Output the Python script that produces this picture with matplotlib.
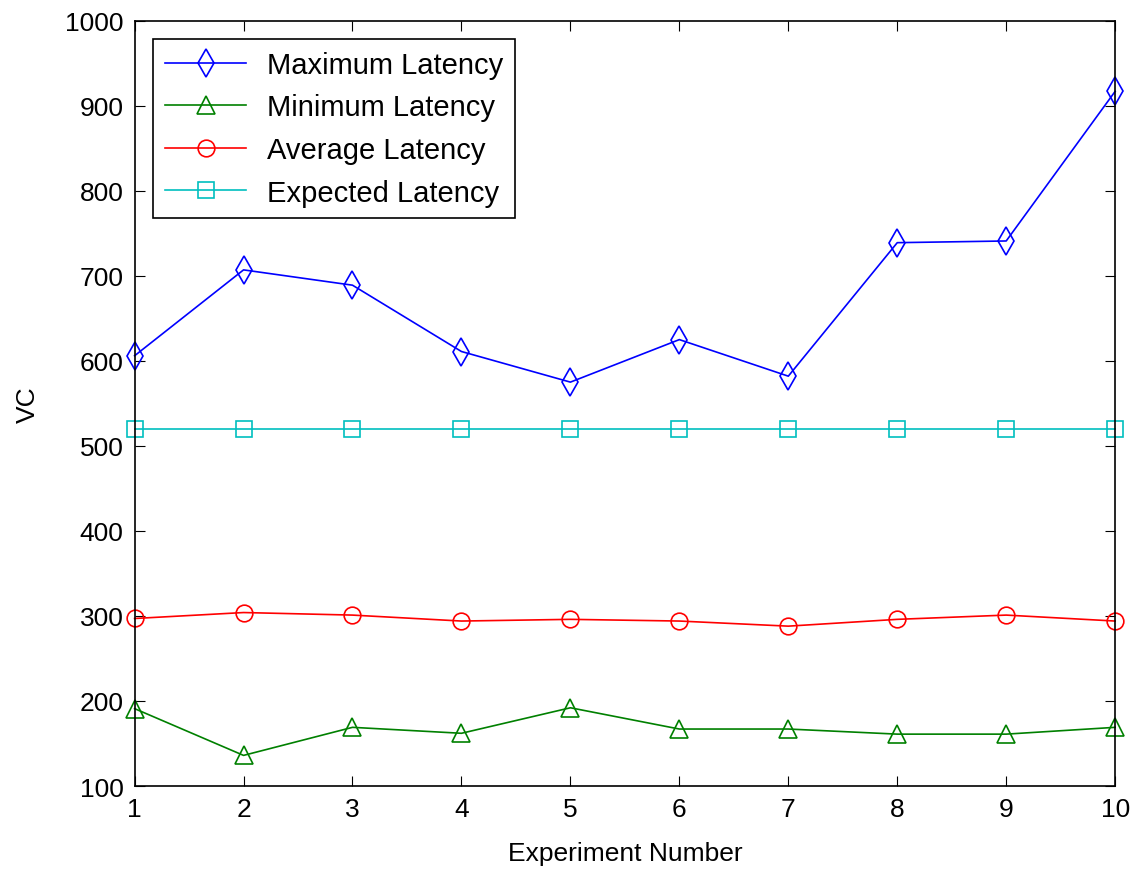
import matplotlib
matplotlib.use("Agg")
import matplotlib.pyplot as plt

# values
experiments = [1, 2, 3, 4, 5, 6, 7, 8, 9, 10]
max_latency = [606, 707, 689, 611, 575, 625, 582, 739, 741, 917]
min_latency = [191, 136, 169, 162, 192, 167, 167, 161, 161, 169]
avg_latency = [297, 304, 301, 294, 296, 294, 288, 296, 301, 294]
expected_latency = [520, 520, 520, 520, 520, 520, 520, 520, 520, 520]

x_ticks = list(range(1, 11))
y_ticks = list(range(100, 1001, 100))

plt.rcParams['font.family'] = ['Liberation Sans', 'DejaVu Sans']

fig = plt.figure(figsize=(11.31, 8.7), dpi=100)
ax = fig.add_axes([0.119, 0.0954, 0.867, 0.8796])

ms = 12
ax.plot(experiments, max_latency, color='#0000ff', marker='d', ms=ms + 2,
        mfc='none', mew=1.2, lw=1.2, label='Maximum Latency', clip_on=False)
ax.plot(experiments, min_latency, color='#008000', marker='^', ms=ms + 1,
        mfc='none', mew=1.2, lw=1.2, label='Minimum Latency', clip_on=False)
ax.plot(experiments, avg_latency, color='#ff0000', marker='o', ms=ms,
        mfc='none', mew=1.2, lw=1.2, label='Average Latency', clip_on=False)
ax.plot(experiments, expected_latency, color='#00bfbf', marker='s', ms=ms,
        mfc='none', mew=1.2, lw=1.2, label='Expected Latency', clip_on=False)

ax.set_xlim(1, 10)
ax.set_ylim(100, 1000)
ax.set_xticks(x_ticks)
ax.set_yticks(y_ticks)
ax.tick_params(direction='in', top=True, right=True, length=7,
               labelsize=19, pad=8)
for s in ax.spines.values():
    s.set_linewidth(1.2)

ax.set_xlabel('Experiment Number', fontsize=19, labelpad=14)
ax.set_ylabel('VC', fontsize=19, labelpad=18)

leg = ax.legend(loc='upper left', fontsize=21, fancybox=False,
                edgecolor='black', framealpha=1, handlelength=2.8,
                borderpad=0.4, labelspacing=0.5, handletextpad=0.7,
                bbox_to_anchor=(0.004, 0.995))
leg.get_frame().set_linewidth(1.2)

fig.savefig('out.png', dpi=100)
